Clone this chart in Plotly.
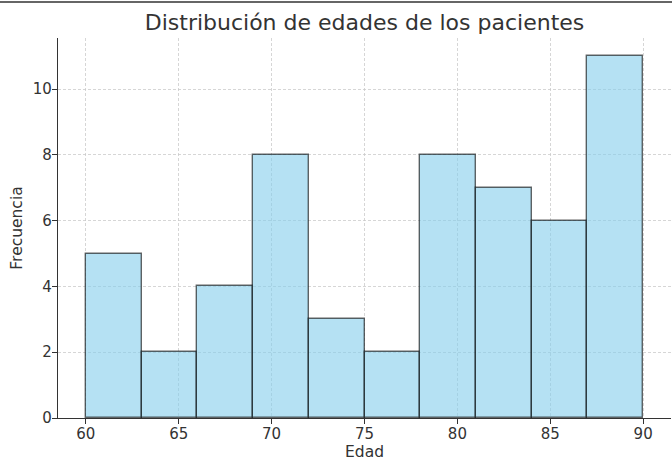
import plotly.graph_objects as go

bin_edges = [60, 63, 66, 69, 72, 75, 78, 81, 84, 87, 90]
counts = [5, 2, 4, 8, 3, 2, 8, 7, 6, 11]
x_ticks = [60, 65, 70, 75, 80, 85, 90]
y_ticks = [0, 2, 4, 6, 8, 10]

centers = [(a + b) / 2 for a, b in zip(bin_edges[:-1], bin_edges[1:])]
widths = [b - a for a, b in zip(bin_edges[:-1], bin_edges[1:])]

fig = go.Figure(go.Bar(
    x=centers, y=counts, width=widths,
    marker=dict(color="rgba(135,206,235,0.62)",
                line=dict(color="rgba(0,0,0,0.6)", width=1.4)),
))

font = "DejaVu Sans, Verdana, sans-serif"
L, R, T, B = 58, 1, 38, 45
W, H = 672, 463
ph = H - T - B
grid = "rgba(200,200,200,0.75)"

fig.update_layout(
    width=W, height=H,
    margin=dict(l=L, r=R, t=T, b=B, pad=0),
    plot_bgcolor="white", paper_bgcolor="white",
    font=dict(family=font, color="#333333", size=15),
    title=dict(text="Distribución de edades de los pacientes",
               x=(L + (W - R)) / 2 / W, xanchor="center",
               y=1 - 22 / H, yanchor="middle",
               font=dict(size=22, color="#333333")),
    showlegend=False,
    bargap=0,
)
fig.update_xaxes(
    range=[58.5, 91.5], tickvals=x_ticks,
    showgrid=True, gridcolor=grid, griddash="3px,2px", gridwidth=0.8,
    showline=True, linecolor="#333333", linewidth=1.2,
    ticks="outside", ticklen=5, tickcolor="#333333",
    tickfont=dict(size=15, color="#333333"),
    ticklabelstandoff=-3,
    zeroline=False,
    title=dict(text="Edad", font=dict(size=15.5, color="#333333"), standoff=2),
)
fig.update_yaxes(
    range=[0, 11.55], tickvals=y_ticks,
    showgrid=True, gridcolor=grid, griddash="3px,2px", gridwidth=0.8,
    showline=True, linecolor="#333333", linewidth=1.2,
    ticks="outside", ticklen=5, tickcolor="#333333",
    tickfont=dict(size=15, color="#333333"),
    ticklabelstandoff=-3,
    zeroline=False,
    title=dict(text="Frecuencia", font=dict(size=15.5, color="#333333"), standoff=6),
)
fig.add_shape(type="line", xref="paper", yref="paper",
              x0=-L / (W - L - R), x1=1 + R / (W - L - R) + 0.01,
              y0=1 + (T - 2) / ph, y1=1 + (T - 2) / ph,
              line=dict(color="#333333", width=1.5))

fig.write_html("out.html",
               config={"displayModeBar": False},
               post_script="document.body.style.margin='0';document.body.style.overflow='hidden';")
